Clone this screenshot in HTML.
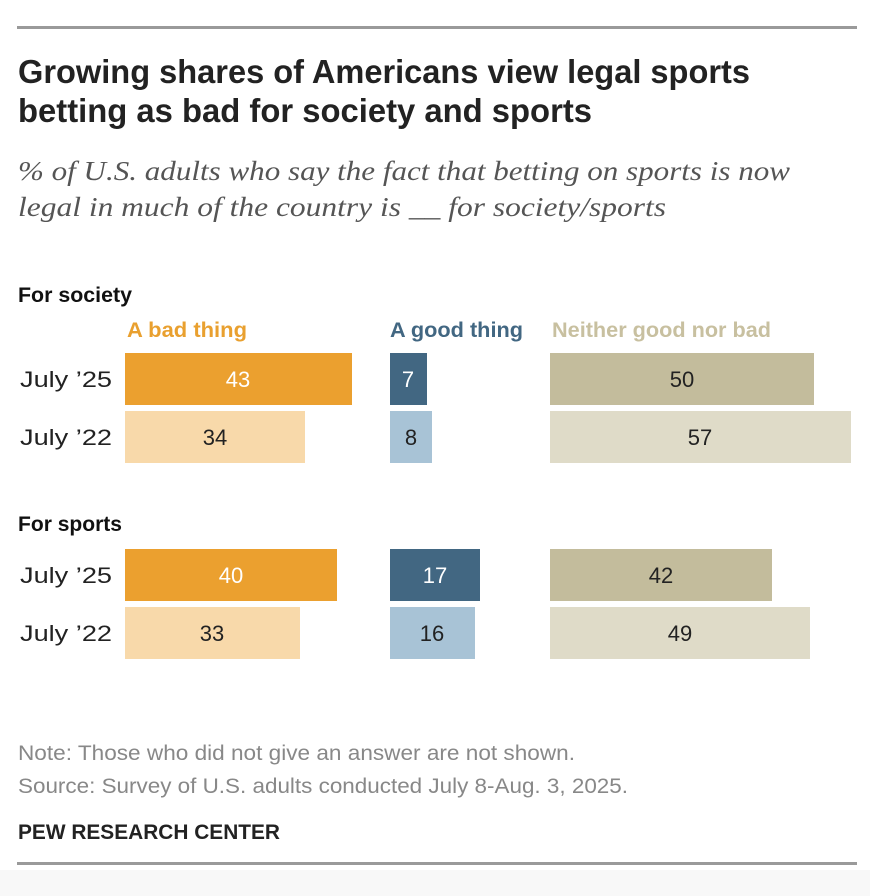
<!DOCTYPE html>
<html><head><meta charset="utf-8"><style>
html,body{margin:0;padding:0;background:#fff;}
svg{display:block}
text{font-family:"Liberation Sans Narrow","Liberation Sans",sans-serif;}
</style></head><body>
<svg width="870" height="896" viewBox="0 0 870 896" xmlns="http://www.w3.org/2000/svg">
<rect x="0" y="0" width="870" height="896" fill="#fff"/>
<rect x="0" y="870" width="870" height="26" fill="#f8f8f8"/>
<rect x="17" y="26" width="840" height="3" fill="#9a9a9a"/>
<rect x="17" y="862" width="840" height="3" fill="#9a9a9a"/>

<g font-weight="bold" font-size="33" fill="#222">
<text x="18" y="83" textLength="732" lengthAdjust="spacingAndGlyphs">Growing shares of Americans view legal sports</text>
<text x="18" y="122" textLength="574" lengthAdjust="spacingAndGlyphs">betting as bad for society and sports</text>
</g>
<g font-style="italic" font-size="27" fill="#555">
<text x="18" y="180" textLength="772" lengthAdjust="spacingAndGlyphs" style="font-family:'Liberation Serif',serif">% of U.S. adults who say the fact that betting on sports is now</text>
<text x="18" y="216" textLength="648" lengthAdjust="spacingAndGlyphs" style="font-family:'Liberation Serif',serif">legal in much of the country is __ for society/sports</text>
</g>

<g font-weight="bold" font-size="21">
<text x="18" y="302" fill="#111" textLength="114" lengthAdjust="spacingAndGlyphs">For society</text>
<text x="127" y="337" fill="#e9a02f" textLength="120" lengthAdjust="spacingAndGlyphs">A bad thing</text>
<text x="390" y="337" fill="#426782" textLength="133" lengthAdjust="spacingAndGlyphs">A good thing</text>
<text x="552" y="337" fill="#c8c0a0" textLength="219" lengthAdjust="spacingAndGlyphs">Neither good nor bad</text>
<text x="18" y="531" fill="#111" textLength="104" lengthAdjust="spacingAndGlyphs">For sports</text>
</g>

<g font-size="22" fill="#222">
<text x="20" y="387" textLength="92" lengthAdjust="spacingAndGlyphs">July ’25</text>
<text x="20" y="445" textLength="92" lengthAdjust="spacingAndGlyphs">July ’22</text>
<text x="20" y="583" textLength="92" lengthAdjust="spacingAndGlyphs">July ’25</text>
<text x="20" y="641" textLength="92" lengthAdjust="spacingAndGlyphs">July ’22</text>
</g>

<rect x="125" y="353" width="227" height="52" fill="#eba02f"/>
<rect x="390" y="353" width="37" height="52" fill="#426782"/>
<rect x="550" y="353" width="264" height="52" fill="#c3bc9c"/>
<rect x="125" y="411" width="180" height="52" fill="#f8d9aa"/>
<rect x="390" y="411" width="42" height="52" fill="#a8c3d6"/>
<rect x="550" y="411" width="301" height="52" fill="#dfdbc8"/>
<rect x="125" y="549" width="212" height="52" fill="#eba02f"/>
<rect x="390" y="549" width="90" height="52" fill="#426782"/>
<rect x="550" y="549" width="222" height="52" fill="#c3bc9c"/>
<rect x="125" y="607" width="175" height="52" fill="#f8d9aa"/>
<rect x="390" y="607" width="85" height="52" fill="#a8c3d6"/>
<rect x="550" y="607" width="260" height="52" fill="#dfdbc8"/>

<g font-size="22" text-anchor="middle">
<text x="238" y="387" fill="#fff">43</text>
<text x="408" y="387" fill="#fff">7</text>
<text x="682" y="387" fill="#222">50</text>
<text x="215" y="445" fill="#222">34</text>
<text x="411" y="445" fill="#222">8</text>
<text x="700" y="445" fill="#222">57</text>
<text x="231" y="583" fill="#fff">40</text>
<text x="435" y="583" fill="#fff">17</text>
<text x="661" y="583" fill="#222">42</text>
<text x="212" y="641" fill="#222">33</text>
<text x="432" y="641" fill="#222">16</text>
<text x="680" y="641" fill="#222">49</text>
</g>

<g font-size="21" fill="#888">
<text x="18" y="760" textLength="557" lengthAdjust="spacingAndGlyphs">Note: Those who did not give an answer are not shown.</text>
<text x="18" y="793" textLength="610" lengthAdjust="spacingAndGlyphs">Source: Survey of U.S. adults conducted July 8-Aug. 3, 2025.</text>
</g>
<text x="18" y="839" font-size="21" font-weight="bold" fill="#222" textLength="262" lengthAdjust="spacingAndGlyphs">PEW RESEARCH CENTER</text>
</svg>
</body></html>
